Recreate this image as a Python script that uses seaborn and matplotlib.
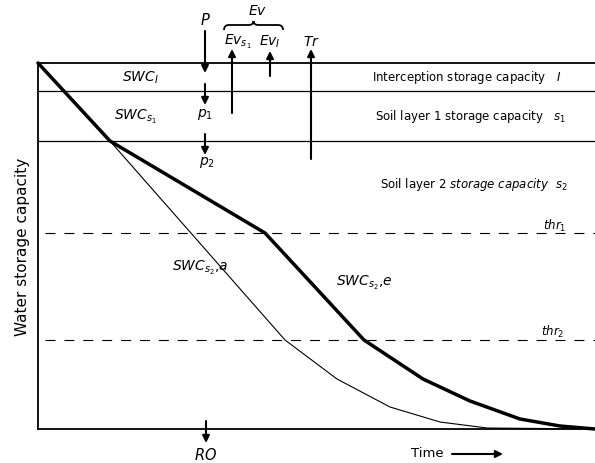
import matplotlib
matplotlib.use("Agg")
import matplotlib.pyplot as plt
import seaborn as sns
import numpy as np
import pandas as pd
from matplotlib.path import Path
from matplotlib.patches import PathPatch

# ---- data (time units / storage units) ----
time_e = [0, 72, 227, 326, 385, 432, 482, 522, 557]
swc_e = [366, 288, 196, 89, 50, 28, 10, 3, 0]
time_a = [72, 247, 299, 352, 402, 449, 557]
swc_a = [288, 89, 50, 22, 7, 1, 0]
level_I = 366
level_s1 = 338
level_s2 = 288
thr1 = 196
thr2 = 89

sns.set_theme(style="white")
plt.rcParams['font.family'] = ['DejaVu Sans']
plt.rcParams['mathtext.fontset'] = 'dejavusans'
FS = 8.5

fig = plt.figure(figsize=(5.95, 4.64), dpi=100)
ax = fig.add_axes([38/595, 34/464, 557/595, 366/464])
ax.set_xlim(0, 557)
ax.set_ylim(0, 366)

df_e = pd.DataFrame({"t": time_e, "swc": swc_e})
df_a = pd.DataFrame({"t": time_a, "swc": swc_a})
sns.lineplot(data=df_a, x="t", y="swc", ax=ax, color="black", lw=0.8, sort=False, clip_on=False)
sns.lineplot(data=df_e, x="t", y="swc", ax=ax, color="black", lw=2.5, sort=False, clip_on=False)

ax.axhline(level_I, color="black", lw=1.3, clip_on=False)
ax.axhline(level_s1, color="black", lw=0.9)
ax.axhline(level_s2, color="black", lw=0.9)
for lv in (thr1, thr2):
    ax.plot([7, 557], [lv, lv], color="black", lw=0.8, ls=(0, (9, 8)))

for s in ("top", "right"):
    ax.spines[s].set_visible(False)
for s in ("left", "bottom"):
    ax.spines[s].set_color("black")
    ax.spines[s].set_linewidth(1.3)
ax.set_xticks([])
ax.set_yticks([])
ax.set_xlabel("")
ax.set_ylabel("Water storage capacity", fontsize=11, color="black", labelpad=6)

def arrow(x0, y0, x1, y1, lw=1.5):
    ax.annotate("", xy=(x1, y1), xytext=(x0, y0), annotation_clip=False,
                arrowprops=dict(arrowstyle="-|>", lw=lw, color="black",
                                mutation_scale=10.5, shrinkA=0, shrinkB=0))

def txt(x, y, s, **kw):
    ax.text(x, y, s, fontsize=kw.pop("fontsize", FS), ha=kw.pop("ha", "center"),
            va=kw.pop("va", "center"), color="black", clip_on=False, **kw)

# inputs / outputs
txt(167, 410, "$P$", fontsize=10.5)
arrow(167, 398, 167, 356)
arrow(167, 345, 167, 324)
txt(167, 315, "$p_1$", fontsize=10)
arrow(167, 295, 167, 274)
txt(169, 267, "$p_2$", fontsize=10)

txt(220, 419, "$Ev$", fontsize=10)
# brace over Ev components
bx0, bx1, by, bh = 186, 245, 399, 5
xm = (bx0 + bx1) / 2
codes = [Path.MOVETO, Path.CURVE3, Path.CURVE3, Path.LINETO, Path.CURVE3, Path.CURVE3,
         Path.CURVE3, Path.CURVE3, Path.LINETO, Path.CURVE3, Path.CURVE3, Path.CURVE3, Path.CURVE3]
verts = [(bx0, by), (bx0, by + bh), (bx0 + 5, by + bh), (xm - 5, by + bh),
         (xm, by + bh), (xm, by + bh + 4), (xm, by + bh), (xm + 5, by + bh),
         (bx1 - 5, by + bh), (bx1, by + bh), (bx1, by), (bx1, by), (bx1, by)]
ax.add_patch(PathPatch(Path(verts, codes), fill=False, lw=1.3, color="black", clip_on=False))

txt(200, 388, "$Ev_{s_1}$", fontsize=10)
arrow(194, 316, 194, 380)
txt(232, 388, "$Ev_I$", fontsize=10)
arrow(232, 353, 232, 378)
txt(273, 388, "$Tr$", fontsize=10)
arrow(273, 270, 273, 380)

arrow(168, 8, 168, -14)
txt(168, -25, "$RO$", fontsize=10.5)
txt(389, -24, "Time", fontsize=9.5)
arrow(414, -25, 465, -25)

# storage labels
txt(102, 352, "$SWC_I$", fontsize=10)
txt(97, 313, "$SWC_{s_1}$", fontsize=10)
txt(429, 352, "Interception storage capacity   $I$")
txt(433, 313, "Soil layer 1 storage capacity   $s_1$")
txt(436, 245, r"Soil layer 2 $storage\ capacity\ \ s_2$")
txt(517, 204, "$thr_1$")
txt(515, 98, "$thr_2$")
txt(162, 162, "$SWC_{s_2}{,}a$", fontsize=10)
txt(326, 147, "$SWC_{s_2}{,}e$", fontsize=10)

fig.savefig("out.png", dpi=100)
